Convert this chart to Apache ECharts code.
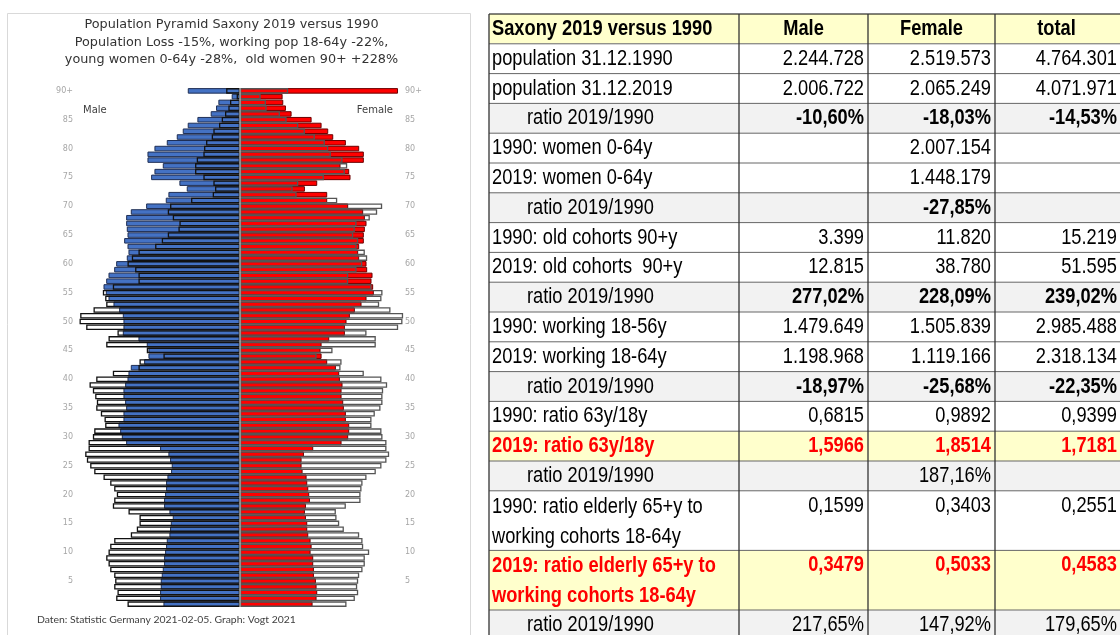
<!DOCTYPE html>
<html><head><meta charset="utf-8">
<script src="https://cdn.jsdelivr.net/npm/echarts@6/dist/echarts.min.js"></script>
<style>html,body{margin:0;padding:0;background:#fff}#c{width:1120px;height:635px}</style>
</head><body><div id="c"></div>
<script>
// ---- Pyramid data (age 1 .. 90+, bottom to top) ----
const ages = ['1','2','3','4','5','6','7','8','9','10','11','12','13','14','15','16','17','18','19','20',
'21','22','23','24','25','26','27','28','29','30','31','32','33','34','35','36','37','38','39','40',
'41','42','43','44','45','46','47','48','49','50','51','52','53','54','55','56','57','58','59','60',
'61','62','63','64','65','66','67','68','69','70','71','72','73','74','75','76','77','78','79','80',
'81','82','83','84','85','86','87','88','89','90+'];
const male2019 = [18790,19610,19610,19440,19440,19200,18950,18630,18630,18380,
18140,17970,17320,17160,16990,16500,17320,18630,18630,18380,
18140,18140,17810,16910,16750,17160,17570,19610,27940,29000,
29410,29820,28600,28600,27940,28190,28600,28600,28190,27610,
27370,26800,23530,22470,22470,22880,24920,28760,28600,28600,
28760,29660,31050,32270,32930,33500,32840,32270,30880,30390,
27780,27370,27610,28430,27610,27780,27940,27940,26800,23040,
18220,17570,13070,14870,21810,21000,18950,22710,22710,21000,
17970,15520,14050,12830,10460,7190,5880,5310,2040,12815];
const male1990 = [27610,30390,30070,30880,30640,30880,31860,32270,32840,32270,
31860,30880,26800,25330,24670,24670,27370,31210,30880,30230,
30880,31860,33500,35780,36770,37580,37990,37170,37170,36110,
35780,33090,33250,34150,35290,35130,35540,36110,36930,35290,
31210,24920,24670,18790,22880,32840,32270,30070,37750,39380,
39220,35950,32840,33090,33660,31210,24920,24920,25740,27610,
26550,24920,20830,19200,17730,15110,14870,16500,17730,17160,
12010,6700,6130,6540,8990,11030,11030,10620,8990,8820,
8330,6940,6540,5150,4490,3680,2860,2450,820,3399];
const female2019 = [17810,18790,18950,18790,18630,18140,18140,17970,17970,17320,
17570,17320,16750,16500,16500,16180,15930,16180,17160,16990,
16750,16500,16340,15360,15110,15110,15690,17970,24920,26550,
26800,26800,25980,25980,25490,25330,24920,24920,25160,24510,
24350,23530,21400,20020,19770,20020,21900,25740,25740,26140,
26960,28190,29820,31050,32840,32680,32270,32520,31210,31050,
29250,29000,29250,30390,30390,30640,31050,30640,30230,26550,
21400,21400,15930,18950,27120,26800,24670,30390,30390,29250,
25980,22880,21650,20020,17570,12660,11270,10620,10460,38780];
const female1990 = [26140,28190,29000,28760,29000,29250,30070,30640,30640,31700,
30230,30070,29250,25490,24350,23690,23530,25980,29580,29580,
29820,30070,31050,33330,34720,35950,36600,35950,35950,34970,
34720,32270,32270,33090,34480,34970,34970,35130,36110,34720,
30390,24670,24920,18790,22710,33330,33330,31050,38810,39870,
40030,36930,34150,34720,34970,32270,26550,26550,28600,30000,
31210,30640,28600,29000,27780,28190,28600,31860,33660,34890,
23860,13890,12910,14300,20590,25740,26310,25160,22300,21650,
20830,18380,15930,14300,11440,9800,6540,6370,5070,11820];

// ---- Table data ----
const tableLabels = ['Saxony 2019 versus 1990','population 31.12.1990','population 31.12.2019','ratio 2019/1990',
'1990: women 0-64y','2019: women 0-64y','ratio 2019/1990','1990: old cohorts 90+y','2019: old cohorts  90+y',
'ratio 2019/1990','1990: working 18-56y','2019: working 18-64y','ratio 2019/1990','1990: ratio 63y/18y',
'2019: ratio 63y/18y','ratio 2019/1990','1990: ratio elderly 65+y to\nworking cohorts 18-64y',
'2019: ratio elderly 65+y to\nworking cohorts 18-64y','ratio 2019/1990'];
const tableMale = ['Male','2.244.728','2.006.722','-10,60%','','','','3.399','12.815','277,02%',
'1.479.649','1.198.968','-18,97%','0,6815','1,5966','','0,1599','0,3479','217,65%'];
const tableFemale = ['Female','2.519.573','2.065.249','-18,03%','2.007.154','1.448.179','-27,85%','11.820','38.780','228,09%',
'1.505.839','1.119.166','-25,68%','0,9892','1,8514','187,16%','0,3403','0,5033','147,92%'];
const tableTotal = ['total','4.764.301','4.071.971','-14,53%','','','','15.219','51.595','239,02%',
'2.985.488','2.318.134','-22,35%','0,9399','1,7181','','0,2551','0,4583','179,65%'];

// ---- Styling / layout (not data) ----
const rowKind = ['head','n','n','ratioB','n','n','ratioB','n','n','ratioB','n','n','ratioB','n','red','ratio','n','red','ratio'];
const rowSpan = [1,1,1,1,1,1,1,1,1,1,1,1,1,1,1,1,2,2,1];
const colX = [489, 739, 868, 995, 1122];
const tTop = 14, pitch = 29.8;
const TF = "'Liberation Sans',Arial,sans-serif";
const SX = 0.83;

const g = [];
// panel frame
g.push({type:'rect', shape:{x:7.5,y:13.5,width:463,height:640}, style:{fill:'none',stroke:'#d9d9d9',lineWidth:1}, z:0});
// title
const titleLines = ['Population Pyramid Saxony 2019 versus 1990','Population Loss -15%, working pop 18-64y -22%,','young women 0-64y -28%,  old women 90+ +228%'];
titleLines.forEach((t,i)=>g.push({type:'text', x:231.5, y:25+i*17.5, style:{text:t, fill:'#333', font:"12.8px 'DejaVu Sans'", align:'center', verticalAlign:'middle'}}));
g.push({type:'text', x:83, y:110, style:{text:'Male', fill:'#404040', font:"10px 'DejaVu Sans'", align:'left', verticalAlign:'middle'}});
g.push({type:'text', x:393, y:110, style:{text:'Female', fill:'#404040', font:"10px 'DejaVu Sans'", align:'right', verticalAlign:'middle'}});
g.push({type:'text', x:37, y:620, style:{text:'Daten: Statistic Germany 2021-02-05. Graph: Vogt 2021', fill:'#404040', font:"10.4px Lato", align:'left', verticalAlign:'middle'}});

// table
let unit = 0;
const fills = {head:'#FFFFCC', red:'#FFFFCC', ratio:'#F2F2F2', ratioB:'#F2F2F2', n:'#FFFFFF'};
tableLabels.forEach((lab, r) => {
  const kind = rowKind[r];
  const y0 = tTop + unit*pitch, h = rowSpan[r]*pitch;
  g.push({type:'rect', shape:{x:colX[0], y:y0, width:colX[4]-colX[0], height:h}, style:{fill:fills[kind]}, z:1});
  g.push({type:'line', shape:{x1:colX[0], y1:y0, x2:colX[4], y2:y0}, style:{stroke: r===0?'#000':'#666', lineWidth:1}, z:3});
  const isRatio = kind==='ratio'||kind==='ratioB';
  const boldLab = kind==='head'||kind==='red';
  const col = kind==='red' ? '#FF0000' : '#000';
  const yc = y0 + pitch/2;
  g.push({type:'text', x: colX[0] + (isRatio?38:3), y: rowSpan[r]===1 ? yc : y0+1, scaleX:SX,
    style:{text:lab, fill:col, font:(boldLab?'bold ':'')+'22px '+TF, align:'left', verticalAlign: rowSpan[r]===1?'middle':'top', lineHeight:pitch}, z:4});
  const vals = [tableMale[r], tableFemale[r], tableTotal[r]];
  const boldVal = kind==='head'||kind==='red'||kind==='ratioB';
  vals.forEach((v,c)=>{
    if(!v) return;
    if(kind==='head'){
      g.push({type:'text', x:(colX[c+1]+colX[c+2])/2 - (c===2?2:0), y:yc, scaleX:SX, style:{text:v, fill:'#000', font:'bold 22px '+TF, align:'center', verticalAlign:'middle'}, z:4});
    } else {
      const right = c===2 ? 1117 : colX[c+2]-4;
      g.push({type:'text', x:right, y:yc, scaleX:SX, style:{text:v, fill:col, font:(boldVal?'bold ':'')+'22px '+TF, align:'right', verticalAlign:'middle'}, z:4});
    }
  });
  unit += rowSpan[r];
});
const tBottom = tTop + unit*pitch;
colX.forEach(x => g.push({type:'line', shape:{x1:x, y1:tTop, x2:x, y2:tBottom}, style:{stroke:'#333', lineWidth:1.3}, z:3}));

const chart = echarts.init(document.getElementById('c'), null, {renderer:'canvas'});
const labelInterval = (i) => (i+1) % 5 === 0;
chart.setOption({
  animation:false,
  backgroundColor:'#fff',
  grid:{left:77, width:326, top:88, bottom:28, containLabel:false},
  xAxis:{type:'value', min:-40000, max:40000, show:false},
  yAxis:[
    {type:'category', data:ages, position:'left', axisLine:{show:false}, axisTick:{show:false},
     axisLabel:{interval:labelInterval, color:'#a6a6a6', fontSize:8, margin:4, fontFamily:'DejaVu Sans'}},
    {type:'category', data:ages, position:'right', axisLine:{show:false}, axisTick:{show:false},
     axisLabel:{interval:labelInterval, color:'#a6a6a6', fontSize:8, margin:2, fontFamily:'DejaVu Sans'}}
  ],
  series:[
    {type:'bar', name:'Male 2019', data:male2019.map(v=>-v), barGap:'-100%', barCategoryGap:'4%', clip:false,
     itemStyle:{color:'#4472C4', borderColor:'#1F2F55', borderWidth:1},
     markLine:{symbol:'none', silent:true, label:{show:false}, lineStyle:{color:'#a6a6a6', width:1.5, type:'solid'}, data:[{xAxis:0}]}},
    {type:'bar', name:'Female 2019', data:female2019, barGap:'-100%', barCategoryGap:'4%', clip:false,
     itemStyle:{color:'#FF0000', borderColor:'#6b0000', borderWidth:1}},
    {type:'bar', name:'Male 1990', data:male1990.map(v=>-v), barGap:'-100%', barCategoryGap:'4%', clip:false,
     itemStyle:{color:'rgba(0,0,0,0)', borderColor:'#111', borderWidth:1.3}},
    {type:'bar', name:'Female 1990', data:female1990, barGap:'-100%', barCategoryGap:'4%', clip:false,
     itemStyle:{color:'rgba(0,0,0,0)', borderColor:'#555', borderWidth:1.3}}
  ],
  graphic:g
});
</script></body></html>
